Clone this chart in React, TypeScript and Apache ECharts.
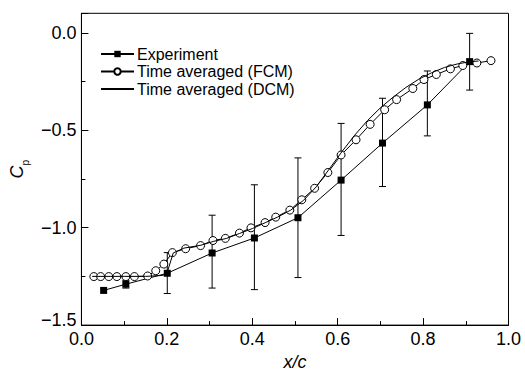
import React, { useEffect, useRef } from "react";
import * as echarts from "echarts";

const expX = [0.052, 0.104, 0.201, 0.306, 0.405, 0.507, 0.608, 0.705, 0.81, 0.909];
const expY = [-1.322, -1.29, -1.234, -1.13, -1.053, -0.949, -0.756, -0.566, -0.37, -0.148];
const errLow: (number | null)[] = [null, -1.31, -1.338, -1.31, -1.318, -1.256, -1.04, -0.789, -0.529, -0.294];
const errHigh: (number | null)[] = [null, -1.27, -1.128, -0.936, -0.78, -0.642, -0.465, -0.336, -0.196, -0.003];

const fcmX = [0.029, 0.045, 0.064, 0.083, 0.104, 0.124, 0.155, 0.174, 0.193, 0.213, 0.244, 0.279, 0.308, 0.337, 0.37, 0.397, 0.43, 0.455, 0.488, 0.516, 0.546, 0.577, 0.608, 0.643, 0.676, 0.71, 0.738, 0.776, 0.802, 0.831, 0.864, 0.893, 0.926, 0.959];
const fcmY = [-1.251, -1.251, -1.251, -1.251, -1.251, -1.251, -1.248, -1.221, -1.187, -1.128, -1.108, -1.092, -1.066, -1.055, -1.028, -1.001, -0.974, -0.946, -0.91, -0.857, -0.798, -0.717, -0.627, -0.549, -0.47, -0.395, -0.343, -0.286, -0.24, -0.214, -0.185, -0.168, -0.155, -0.143];

const dcmX = [0.025, 0.1, 0.15, 0.19, 0.2, 0.215, 0.24, 0.28, 0.31, 0.34, 0.37, 0.4, 0.43, 0.46, 0.49, 0.52, 0.55, 0.58, 0.61, 0.64, 0.67, 0.7, 0.73, 0.76, 0.79, 0.82, 0.85, 0.88, 0.91, 0.93];
const dcmY = [-1.25, -1.25, -1.25, -1.245, -1.235, -1.13, -1.105, -1.09, -1.07, -1.055, -1.03, -1.005, -0.975, -0.945, -0.91, -0.86, -0.79, -0.7, -0.61, -0.525, -0.45, -0.385, -0.33, -0.28, -0.238, -0.205, -0.178, -0.16, -0.148, -0.145];

const xTicks = [0, 0.2, 0.4, 0.6, 0.8, 1.0];
const yTicks = [-1.5, -1.0, -0.5, 0.0];

const FONT = "'Liberation Sans', Arial, sans-serif";

function fmt(v: number) {
  const s = Math.abs(v).toFixed(1);
  return v < -1e-9 ? "\u2212" + s : s;
}

export default function App() {
  const ref = useRef<HTMLDivElement>(null);
  useEffect(() => {
    if (!ref.current) return;
    const chart = echarts.init(ref.current, null, { renderer: "svg" });
    const errData = expX
      .map((x, i) => (errLow[i] == null ? null : [x, errLow[i], errHigh[i]]))
      .filter((d) => d != null);
    chart.setOption({
      animation: false,
      backgroundColor: "#fff",
      textStyle: { fontFamily: FONT },
      grid: {
        left: 78.5,
        right: 16.5,
        top: 13.3,
        bottom: 44.5,
        show: true,
        borderColor: "#000",
        borderWidth: 1,
        backgroundColor: "transparent",
      },
      legend: {
        orient: "vertical",
        left: 95,
        top: 41,
        itemWidth: 33,
        itemHeight: 8,
        itemGap: 1.5,
        textStyle: { fontSize: 16, color: "#000", fontFamily: FONT, padding: [0, 0, 0, -2] },
        data: ["Experiment", "Time averaged (FCM)", "Time averaged (DCM)"],
      },
      xAxis: {
        type: "value",
        min: 0,
        max: 1,
        interval: 0.2,
        name: "x/c",
        nameLocation: "middle",
        nameGap: 22,
        nameTextStyle: { fontSize: 18, fontStyle: "italic", color: "#000", fontFamily: FONT },
        axisLine: { onZero: false, lineStyle: { color: "#000", width: 1 } },
        axisTick: { inside: true, length: 7, lineStyle: { color: "#000" } },
        minorTick: { show: true, splitNumber: 2, length: 4, lineStyle: { color: "#000" } },
        splitLine: { show: false },
        axisLabel: {
          fontSize: 18,
          color: "#000",
          margin: 5,
          fontFamily: FONT,
          formatter: (v: number) =>
            xTicks.some((t) => Math.abs(t - v) < 1e-6) ? fmt(v) : "",
        },
      },
      yAxis: [
        {
          type: "value",
          min: -1.5,
          max: 0.1,
          interval: 0.5,
          name: "{c|C}{p|p}",
          nameLocation: "middle",
          nameRotate: 90,
          nameGap: 48,
          nameTextStyle: {
            color: "#000",
            rich: {
              c: { fontSize: 18, fontStyle: "italic", fontFamily: FONT, color: "#000", verticalAlign: "top", lineHeight: 22 },
              p: { fontSize: 10, fontFamily: FONT, color: "#000", verticalAlign: "bottom", lineHeight: 22, padding: [10, 0, 0, 0] },
            },
          },
          axisLine: { onZero: false, lineStyle: { color: "#000", width: 1 } },
          axisTick: { inside: true, length: 7, lineStyle: { color: "#000" } },
          splitLine: { show: false },
          axisLabel: {
            fontSize: 18,
            color: "#000",
            margin: 5,
            fontFamily: FONT,
            formatter: (v: number) => {
              if (!yTicks.some((t) => Math.abs(t - v) < 1e-6)) return "";
              if (Math.abs(v + 1.5) < 1e-6) return "{lo|" + fmt(v) + "}";
              return fmt(v);
            },
            rich: {
              lo: { fontSize: 18, color: "#000", fontFamily: FONT, padding: [0, 0, 10, 0] },
            },
          },
        },
        {
          type: "value",
          position: "left",
          min: -1.5,
          max: 0.1,
          interval: 0.25,
          axisLine: { show: false, onZero: false },
          axisTick: { inside: true, length: 4, lineStyle: { color: "#000" } },
          axisLabel: { show: false },
          splitLine: { show: false },
        },
      ],
      series: [
        {
          name: "Experiment",
          type: "line",
          data: expX.map((x, i) => [x, expY[i]]),
          symbol: "rect",
          symbolSize: 7,
          lineStyle: { color: "#000", width: 1 },
          itemStyle: { color: "#000" },
          z: 4,
        },
        {
          name: "errors",
          type: "custom",
          data: errData,
          encode: { x: 0, y: [1, 2] },
          renderItem: (params: any, api: any) => {
            const x = api.value(0);
            const lo = api.coord([x, api.value(1)]);
            const hi = api.coord([x, api.value(2)]);
            const w = 3.5;
            const st = { stroke: "#000", lineWidth: 1 };
            return {
              type: "group",
              children: [
                { type: "line", shape: { x1: lo[0], y1: lo[1], x2: hi[0], y2: hi[1] }, style: st },
                { type: "line", shape: { x1: lo[0] - w, y1: lo[1], x2: lo[0] + w, y2: lo[1] }, style: st },
                { type: "line", shape: { x1: hi[0] - w, y1: hi[1], x2: hi[0] + w, y2: hi[1] }, style: st },
              ],
            };
          },
          z: 3,
        },
        {
          name: "Time averaged (FCM)",
          type: "line",
          data: fcmX.map((x, i) => [x, fcmY[i]]),
          symbol: "circle",
          symbolSize: 8,
          lineStyle: { color: "#000", width: 1 },
          itemStyle: { color: "#fff", borderColor: "#000", borderWidth: 1 },
          z: 5,
        },
        {
          name: "Time averaged (DCM)",
          type: "line",
          data: dcmX.map((x, i) => [x, dcmY[i]]),
          symbol: "none",
          showSymbol: false,
          lineStyle: { color: "#000", width: 1 },
          itemStyle: { color: "transparent", borderColor: "transparent", borderWidth: 0 },
          z: 6,
        },
      ],
    });
    return () => chart.dispose();
  }, []);
  return (
    <div
      ref={ref}
      style={{ position: "fixed", left: 0, top: 0, width: 525, height: 376 }}
    />
  );
}
